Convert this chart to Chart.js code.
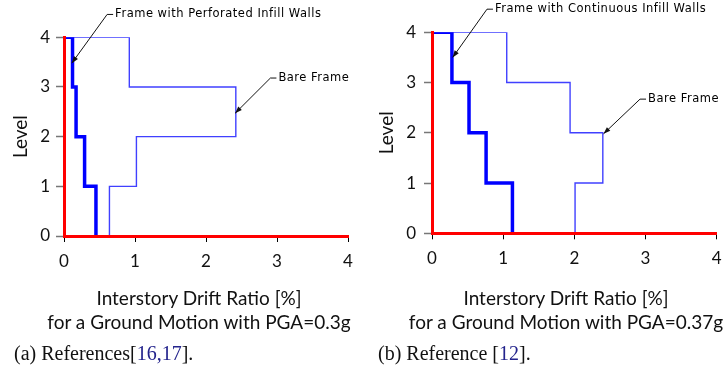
<!DOCTYPE html>
<html><head><meta charset="utf-8">
<script src="https://cdn.jsdelivr.net/npm/chart.js@4.4.1/dist/chart.umd.min.js"></script>
<style>
html,body{margin:0;padding:0;background:#fff;}
body{width:727px;height:369px;position:relative;overflow:hidden;}
canvas{position:absolute;top:0;}
#ca{left:0;}
#cb{left:364px;}
.xt{position:absolute;font-family:Lato,sans-serif;font-size:19px;line-height:24px;text-align:center;color:#111;white-space:nowrap;transform:translateX(-50%);}
.cap{position:absolute;font-family:"Liberation Serif",serif;font-size:20px;line-height:22px;white-space:nowrap;color:#111;}
.ref{color:#23238c;}
</style></head>
<body>
<canvas id="ca" width="364" height="369"></canvas>
<canvas id="cb" width="363" height="369"></canvas>
<div class="xt" style="left:199px;top:286px;">Interstory Drift Ratio [%]<br>for a Ground Motion with PGA=0.3g</div>
<div class="xt" style="left:566px;top:286px;">Interstory Drift Ratio [%]<br>for a Ground Motion with PGA=0.37g</div>
<div class="cap" style="left:14px;top:342px;">(a) References[<span class="ref">16,17</span>].</div>
<div class="cap" style="left:378px;top:342px;">(b) Reference [<span class="ref">12</span>].</div>
<script>
// Levels (floors) and x tick values
const LEVELS = [0, 1, 2, 3, 4];
const X_TICKS = [0, 1, 2, 3, 4];
// Interstory drift ratio [%] per story (story 1 .. story 4)
const bareFrameA = [0.64, 1.02, 2.42, 0.92];
const perforatedInfillA = [0.45, 0.29, 0.17, 0.12];
const bareFrameB = [2.01, 2.40, 1.94, 1.05];
const continuousInfillB = [1.13, 0.76, 0.52, 0.28];

// Build the step profile from story drifts
function stepPoints(drifts) {
  const top = LEVELS[LEVELS.length - 1];
  const pts = [{x: 0, y: top}];
  for (let s = drifts.length - 1; s >= 0; s--) {
    pts.push({x: drifts[s], y: LEVELS[s + 1]});
    pts.push({x: drifts[s], y: LEVELS[s]});
  }
  return pts;
}

const leaderPlugin = {
  id: 'leaders',
  afterDraw(chart, args, opts) {
    const ctx = chart.ctx, xs = chart.scales.x, ys = chart.scales.y;
    (opts.items || []).forEach(a => {
      const tx = xs.getPixelForValue(a.tip[0]), ty = ys.getPixelForValue(a.tip[1]);
      const lx = xs.getPixelForValue(a.at[0]), ly = ys.getPixelForValue(a.at[1]);
      const ex = lx - 8;
      ctx.save();
      ctx.strokeStyle = '#111'; ctx.fillStyle = '#111'; ctx.lineWidth = 1;
      ctx.beginPath();
      ctx.moveTo(tx, ty); ctx.lineTo(ex, ly); ctx.lineTo(lx - 2, ly);
      ctx.stroke();
      const ang = Math.atan2(ty - ly, tx - ex);
      const L = 7, W = 2.5;
      ctx.beginPath();
      ctx.moveTo(tx, ty);
      ctx.lineTo(tx - L * Math.cos(ang) + W * Math.sin(ang), ty - L * Math.sin(ang) - W * Math.cos(ang));
      ctx.lineTo(tx - L * Math.cos(ang) - W * Math.sin(ang), ty - L * Math.sin(ang) + W * Math.cos(ang));
      ctx.closePath(); ctx.fill();
      ctx.font = '11.5px "DejaVu Sans"';
      if ('letterSpacing' in ctx) ctx.letterSpacing = '0.5px';
      ctx.textBaseline = 'middle'; ctx.textAlign = 'left';
      ctx.fillStyle = '#000';
      ctx.fillText(a.text, lx, ly);
      ctx.restore();
    });
  }
};

function makeChart(id, thick, thin, thickLabel, opt) {
  return new Chart(document.getElementById(id), {
    type: 'scatter',
    data: {
      datasets: [
        {label: thickLabel, data: stepPoints(thick), showLine: true, borderColor: '#0000ff', borderWidth: 3.5, pointRadius: 0, tension: 0, borderJoinStyle: 'miter'},
        {label: 'Bare Frame', data: stepPoints(thin), showLine: true, borderColor: 'rgba(30,30,255,0.85)', borderWidth: 1.4, pointRadius: 0, tension: 0, borderJoinStyle: 'miter'}
      ]
    },
    options: {
      responsive: false, animation: false,
      layout: {padding: {left: 0, top: opt.top, right: opt.right, bottom: 0}},
      plugins: {legend: {display: false}, tooltip: {enabled: false}, leaders: {items: opt.items}},
      scales: {
        x: {
          type: 'linear', min: 0, max: 4,
          afterBuildTicks: s => { s.ticks = X_TICKS.map(v => ({value: v})); },
          ticks: {padding: 9, maxRotation: 0, color: '#111', font: {family: 'Lato', size: 17}},
          grid: {drawOnChartArea: false, drawTicks: true, tickLength: 6, tickColor: '#000', tickWidth: 1},
          border: {color: '#ff0000', width: 3, z: 1},
          afterFit: s => { s.height = opt.xh; s.paddingLeft = 0; s.paddingRight = 0; }
        },
        y: {
          min: 0, max: 4,
          afterBuildTicks: s => { s.ticks = LEVELS.map(v => ({value: v})); },
          ticks: {padding: opt.ypad, color: '#111', font: {family: 'Lato', size: 17}},
          grid: {drawOnChartArea: false, drawTicks: true, tickLength: 8, tickColor: '#777', tickWidth: 1.5},
          border: {color: '#ff0000', width: 3, z: 1},
          title: {display: true, text: 'Level', color: '#111', font: {family: 'Lato', size: 19}, padding: {top: opt.tpad, bottom: 0}},
          afterFit: s => { s.width = opt.yw; }
        }
      }
    },
    plugins: [leaderPlugin]
  });
}

makeChart('ca', perforatedInfillA, bareFrameA, 'Frame with Perforated Infill Walls', {
  top: 37.3, right: 16, xh: 133, yw: 64, ypad: 6, tpad: 9,
  items: [
    {text: 'Frame with Perforated Infill Walls', tip: [0.11, 3.48], at: [0.72, 4.46]},
    {text: 'Bare Frame', tip: [2.41, 2.47], at: [3.02, 3.18]}
  ]
});
makeChart('cb', continuousInfillB, bareFrameB, 'Frame with Continuous Infill Walls', {
  top: 32.3, right: 10.3, xh: 135.7, yw: 68, ypad: 8, tpad: 11.5,
  items: [
    {text: 'Frame with Continuous Infill Walls', tip: [0.29, 3.50], at: [0.885, 4.46]},
    {text: 'Bare Frame', tip: [2.41, 1.98], at: [3.035, 2.67]}
  ]
});
</script>
</body></html>
